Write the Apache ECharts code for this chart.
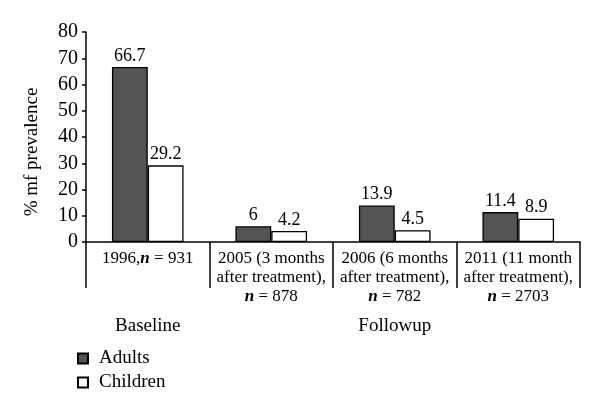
<!DOCTYPE html>
<html><head><meta charset="utf-8">
<script src="https://cdn.jsdelivr.net/npm/echarts@6/dist/echarts.min.js"></script>
<style>html,body{margin:0;padding:0;background:#fff}#c{width:600px;height:413px}</style>
</head><body><div id="c"></div>
<script>
const categories = [
  '{a|1996,}{i|n}{a| = 931}',
  '{a|2005 (3 months}\n{a|after treatment),}\n{i|n}{a| = 878}',
  '{a|2006 (6 months}\n{a|after treatment),}\n{i|n}{a| = 782}',
  '{a|2011 (11 month}\n{a|after treatment),}\n{i|n}{a| = 2703}'
];
const groupLabels = ['Baseline', '', 'Followup', ''];
const adults = [66.7, 6, 13.9, 11.4];
const children = [29.2, 4.2, 4.5, 8.9];
const yTicks = [0, 10, 20, 30, 40, 50, 60, 70, 80];

const F = 'Liberation Serif, DejaVu Serif, serif';
const chart = echarts.init(document.getElementById('c'));
chart.setOption({
  animation: false,
  textStyle: { fontFamily: F, color: '#000' },
  grid: { left: 86, right: 20, top: 32, bottom: 171 },
  legend: {
    orient: 'vertical', left: 72, top: 344, itemWidth: 10, itemHeight: 10, itemGap: 5,
    icon: 'rect',
    textStyle: { fontFamily: F, fontSize: 19, color: '#000', padding: [0, 0, 0, 6] },
    data: ['Adults', 'Children']
  },
  xAxis: [{
    type: 'category', data: categories, position: 'bottom',
    axisLine: { lineStyle: { color: '#000', width: 1.5 } },
    axisTick: { show: true, length: 46, interval: 0, lineStyle: { color: '#000', width: 1.5 } },
    axisLabel: {
      interval: 0, margin: 7, lineHeight: 19,
      rich: {
        a: { fontFamily: F, fontSize: 17, color: '#000', lineHeight: 19 },
        i: { fontFamily: F, fontSize: 17, color: '#000', fontStyle: 'italic', fontWeight: 'bold', lineHeight: 19 }
      }
    }
  }, {
    type: 'category', data: groupLabels, position: 'bottom', offset: 67,
    axisLine: { show: false }, axisTick: { show: false },
    axisLabel: { interval: 0, fontFamily: F, fontSize: 19, color: '#000' }
  }],
  yAxis: {
    type: 'value', min: 0, max: 80, interval: 10,
    name: '% mf prevalence', nameLocation: 'middle', nameGap: 44,
    nameTextStyle: { fontFamily: F, fontSize: 19, color: '#000', padding: [0, 30, 0, 0] },
    axisLine: { show: true, lineStyle: { color: '#000', width: 1.5 } },
    axisTick: { show: true, length: 4, lineStyle: { color: '#000', width: 1.5 } },
    splitLine: { show: false },
    axisLabel: {
      fontFamily: F, fontSize: 20, color: '#000', margin: 8,
      formatter: v => yTicks.includes(v) ? String(v) : ''
    }
  },
  series: [{
    name: 'Adults', type: 'bar', data: adults, barGap: '0%', barCategoryGap: '42%',
    itemStyle: { color: '#545454', borderColor: '#000', borderWidth: 1.3 },
    label: { show: true, position: 'top', distance: 2, fontFamily: F, fontSize: 18, color: '#000' }
  }, {
    name: 'Children', type: 'bar', data: children,
    itemStyle: { color: '#fff', borderColor: '#000', borderWidth: 1.3 },
    label: { show: true, position: 'top', distance: 2, fontFamily: F, fontSize: 18, color: '#000' }
  }]
});
</script></body></html>
